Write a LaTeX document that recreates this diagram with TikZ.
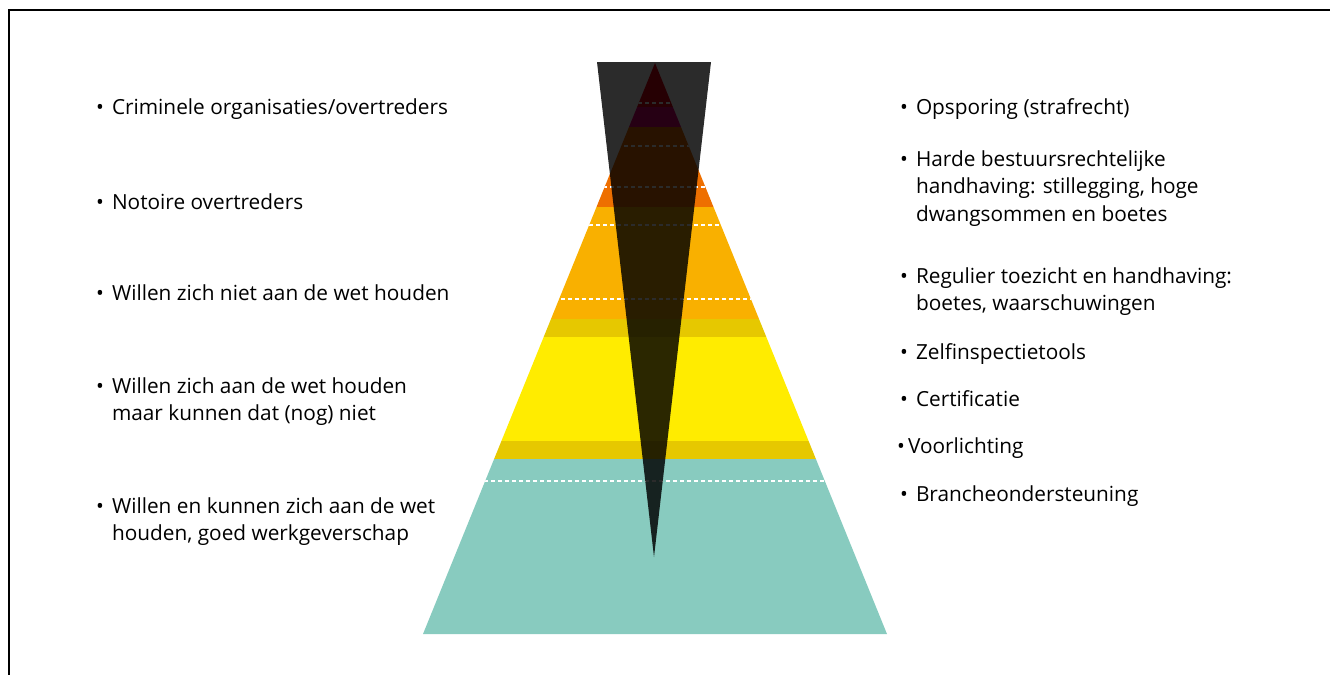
\documentclass[tikz,border=0pt]{standalone}
\usepackage{fontspec}
\setmainfont{Open Sans}
\usepackage{tikz}

\definecolor{rood}{RGB}{228,0,20}
\definecolor{paars}{RGB}{228,0,120}
\definecolor{oranje}{RGB}{238,111,0}
\definecolor{oranjegeel}{RGB}{249,176,0}
\definecolor{donkergeel}{RGB}{230,200,0}
\definecolor{geel}{RGB}{255,236,0}
\definecolor{groenblauw}{RGB}{136,203,191}

\newcommand{\regels}[1]{\begin{tabular}[t]{@{}l@{}}#1\end{tabular}}

\begin{document}
\begin{tikzpicture}[x=1pt,y=-1pt,
  tekst/.style={anchor=base west,inner sep=0pt,font=\fontsize{20.8}{27.8}\selectfont},
  stippel/.style={white,line width=1.8pt,dash pattern=on 4pt off 3pt}]
\useasboundingbox (0,0) rectangle (1330,675);
% kader
\draw[line width=1.8pt] (1330,10) -- (9,10) -- (9,675);
% piramide
\begin{scope}
\clip (655,63) -- (887,634) -- (423,634) -- cycle;
\fill[rood] (400,55) rectangle (910,107);
\fill[paars] (400,107) rectangle (910,127);
\fill[oranje] (400,127) rectangle (910,207);
\fill[oranjegeel] (400,207) rectangle (910,319);
\fill[donkergeel] (400,319) rectangle (910,337);
\fill[geel] (400,337) rectangle (910,441);
\fill[donkergeel] (400,441) rectangle (910,459);
\fill[groenblauw] (400,459) rectangle (910,640);
\foreach \y in {103,146,187,225,299,481}
  \draw[stippel] (400,\y) -- (910,\y);
\end{scope}
% omgekeerde driehoek
\fill[black,opacity=0.83] (597,62) -- (711,62) -- (654,557) -- cycle;
% links
\node[tekst] (l1) at (96,114) {\textbullet\hspace{8pt}\regels{Criminele organisaties/overtreders}};
\node[tekst] (l2) at (96,209) {\textbullet\hspace{8pt}\regels{Notoire overtreders}};
\node[tekst] (l3) at (96,300) {\textbullet\hspace{8pt}\regels{Willen zich niet aan de wet houden}};
\node[tekst] (l4) at (96,393) {\textbullet\hspace{8pt}\regels{Willen zich aan de wet houden\\maar kunnen dat (nog) niet}};
\node[tekst] (l5) at (96,513) {\textbullet\hspace{8pt}\regels{Willen en kunnen zich aan de wet\\houden, goed werkgeverschap}};
% rechts
\node[tekst] (r1) at (900,114) {\textbullet\hspace{8pt}\regels{Opsporing (strafrecht)}};
\node[tekst] (r2) at (900,166) {\textbullet\hspace{8pt}\regels{Harde bestuursrechtelijke\\handhaving: stillegging, hoge\\dwangsommen en boetes}};
\node[tekst] (r3) at (900,283) {\textbullet\hspace{8pt}\regels{Regulier toezicht en handhaving:\\boetes, waarschuwingen}};
\node[tekst] (r4) at (900,359) {\textbullet\hspace{8pt}\regels{Zelfinspectietools}};
\node[tekst] (r5) at (900,406) {\textbullet\hspace{8pt}\regels{Certificatie}};
\node[tekst] (r6) at (897,453) {\textbullet\hspace{3pt}\regels{Voorlichting}};
\node[tekst] (r7) at (900,501) {\textbullet\hspace{8pt}\regels{Brancheondersteuning}};
\end{tikzpicture}
\end{document}
